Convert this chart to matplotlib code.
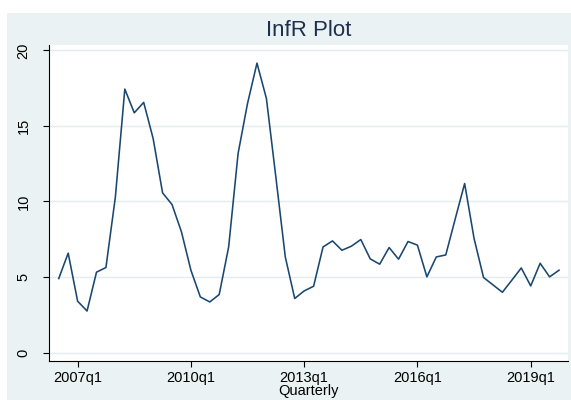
import matplotlib
matplotlib.use("Agg")
import matplotlib.pyplot as plt
import matplotlib.patches as mpatches
import pandas as pd

# ---- data ----
start_quarter = "2006Q3"
infr = [4.90, 6.58, 3.40, 2.75, 5.32, 5.63, 10.30, 17.44, 15.87, 16.56,
        14.17, 10.57, 9.80, 7.99, 5.45, 3.68, 3.35, 3.84, 6.99, 13.18,
        16.49, 19.16, 16.82, 11.62, 6.33, 3.58, 4.08, 4.39, 6.99, 7.39,
        6.77, 7.04, 7.48, 6.20, 5.85, 6.95, 6.18, 7.35, 7.11, 5.01,
        6.33, 6.46, 8.84, 11.19, 7.55, 4.97, 4.48, 3.99, 4.79, 5.60,
        4.41, 5.91, 5.01, 5.45]
tick_labels = ["2007q1", "2010q1", "2013q1", "2016q1", "2019q1"]
y_ticks = [0, 5, 10, 15, 20]
title = "InfR Plot"
xlabel = "Quarterly"

periods = pd.period_range(start_quarter, periods=len(infr), freq="Q")
qnum = [p.year * 4 + p.quarter - 1 for p in periods]
tick_pos = [pd.Period(t.replace("q", "Q"), freq="Q") for t in tick_labels]
tick_pos = [p.year * 4 + p.quarter - 1 for p in tick_pos]

plt.rcParams['font.family'] = ['Liberation Sans', 'DejaVu Sans']

W, H = 571, 400
fig = plt.figure(figsize=(W / 100, H / 100), dpi=100)
fig.patch.set_facecolor("white")
bg = "#EAF2F3"
fig.patches.append(mpatches.Rectangle((7 / W, 0), 1 - 7 / W, 1 - 13 / H,
                                      transform=fig.transFigure,
                                      facecolor=bg, edgecolor="none", zorder=-5))

left, right, top, bottom = 49.3, 568, 45, 361
ax = fig.add_axes([left / W, 1 - bottom / H, (right - left) / W, (bottom - top) / H])
ax.set_zorder(2)
ax.set_facecolor("white")

ax.plot(qnum, infr, color="#1A476F", lw=1.15, zorder=3)

ax.set_xlim(qnum[0] - 1.0, qnum[0] + 53.95)
ax.set_ylim(-0.56, 20.36)
ax.set_yticks(y_ticks)
ax.set_yticklabels([str(v) for v in y_ticks], rotation=90, va="center")
ax.set_xticks(tick_pos)
ax.set_xticklabels(tick_labels)

ax.grid(axis="y", color="#E3ECEE", lw=1.0, zorder=1)
ax.set_axisbelow(True)
for s in ["top", "right"]:
    ax.spines[s].set_visible(False)
for s in ["left", "bottom"]:
    ax.spines[s].set_color("black")
    ax.spines[s].set_linewidth(0.8)

ax.tick_params(axis="y", length=4.5, width=0.8, labelsize=10.5, pad=9, colors="black")
ax.tick_params(axis="x", length=4.5, width=0.8, labelsize=10.5, pad=3, colors="black")

ax.set_xlabel(xlabel, fontsize=10.5, labelpad=-1)

fig.text(((left + right) / 2) / W, 1 - 30 / H, title, ha="center", va="center",
         fontsize=16, color="#1E2F4F", zorder=3)

fig.savefig("out.png", dpi=100)
